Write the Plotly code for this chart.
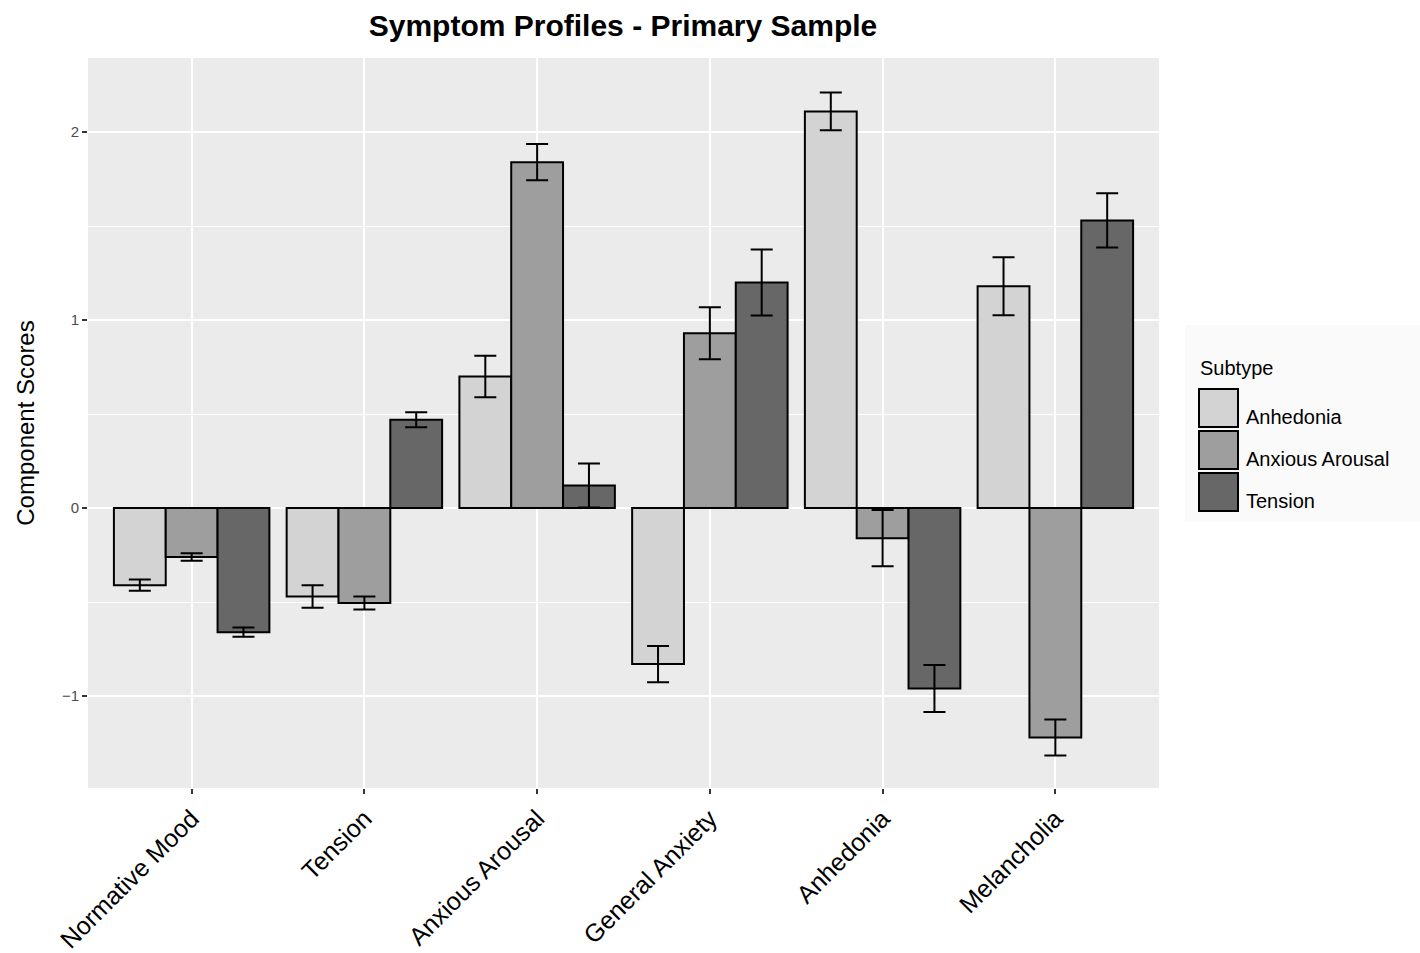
import plotly.graph_objects as go

categories = ["Normative Mood", "Tension", "Anxious Arousal", "General Anxiety", "Anhedonia", "Melancholia"]
subtypes = ["Anhedonia", "Anxious Arousal", "Tension"]
anhedonia_vals = [-0.41, -0.47, 0.70, -0.83, 2.11, 1.18]
anhedonia_err = [0.03, 0.06, 0.11, 0.096, 0.10, 0.154]
anxious_vals = [-0.26, -0.505, 1.84, 0.93, -0.16, -1.22]
anxious_err = [0.02, 0.035, 0.096, 0.138, 0.15, 0.096]
tension_vals = [-0.66, 0.47, 0.12, 1.20, -0.96, 1.53]
tension_err = [0.025, 0.04, 0.117, 0.176, 0.125, 0.144]
colors = ["#d3d3d3", "#9e9e9e", "#676767"]

values = [anhedonia_vals, anxious_vals, tension_vals]
errors = [anhedonia_err, anxious_err, tension_err]

W, H = 1420, 953
L, R, T, B = 88, 1159, 58, 788

fig = go.Figure()
for name, v, e, c in zip(subtypes, values, errors, colors):
    fig.add_trace(go.Bar(
        x=list(range(len(categories))), y=v, name=name,
        marker=dict(color=c, line=dict(color="black", width=2)),
        error_y=dict(type="data", array=e, visible=True, color="black", thickness=2, width=11),
        showlegend=False,
    ))

def px(xp):
    return (xp - L) / (R - L)

def py(yp):
    return (B - yp) / (B - T)

FONT = "Liberation Sans, Arial"
shapes = []
annotations = []
shapes.append(dict(type="rect", xref="paper", yref="paper", x0=px(1185), x1=px(1420), y0=py(522), y1=py(325),
                   fillcolor="#fafafa", line=dict(width=0), layer="below"))
annotations.append(dict(text="Subtype", xref="paper", yref="paper", x=px(1198), y=py(368), xanchor="left",
                        yanchor="middle", showarrow=False, font=dict(size=20, color="black", family=FONT)))
for i, (name, c) in enumerate(zip(subtypes, colors)):
    top = 388 + i * 42
    shapes.append(dict(type="rect", xref="paper", yref="paper", x0=px(1199), x1=px(1238), y0=py(top + 39), y1=py(top + 1),
                       fillcolor=c, line=dict(color="black", width=2)))
    annotations.append(dict(text=name, xref="paper", yref="paper", x=px(1244), y=py(top + 29), xanchor="left",
                            yanchor="middle", showarrow=False, font=dict(size=20, color="black", family=FONT)))

fig.update_layout(
    width=W, height=H,
    margin=dict(l=L, r=W - R, t=T, b=H - B, pad=0),
    paper_bgcolor="white", plot_bgcolor="#ebebeb",
    barmode="group", bargap=0.1, bargroupgap=0,
    title=dict(text="<b>Symptom Profiles - Primary Sample</b>", x=623 / W, xanchor="center", y=1 - 25 / H, yanchor="middle",
               font=dict(size=30, color="black", family=FONT)),
    font=dict(family=FONT),
    shapes=shapes, annotations=annotations,
)
fig.update_xaxes(
    range=[-0.6, 5.6], tickmode="array", tickvals=list(range(len(categories))), ticktext=categories,
    tickangle=-45, tickfont=dict(size=25, color="black"), ticks="outside", ticklen=5, tickcolor="#333333", tickwidth=2,
    showgrid=True, gridcolor="white", gridwidth=2, zeroline=False, showline=False, automargin=False,
)
fig.update_yaxes(
    range=[-1.489, 2.394], tickvals=[-1, 0, 1, 2], ticktext=["\u22121", "0", "1", "2"],
    tickfont=dict(size=15, color="#4d4d4d"), ticks="outside", ticklen=5, tickcolor="#333333", tickwidth=2,
    showgrid=True, gridcolor="white", gridwidth=2, zeroline=False, showline=False, automargin=False,
    minor=dict(tickvals=[-1.5, -0.5, 0.5, 1.5], showgrid=True, gridcolor="white", gridwidth=1, ticks=""),
    title=dict(text="Component Scores", font=dict(size=24, color="black"), standoff=20),
)

fig.write_html("out.html")
